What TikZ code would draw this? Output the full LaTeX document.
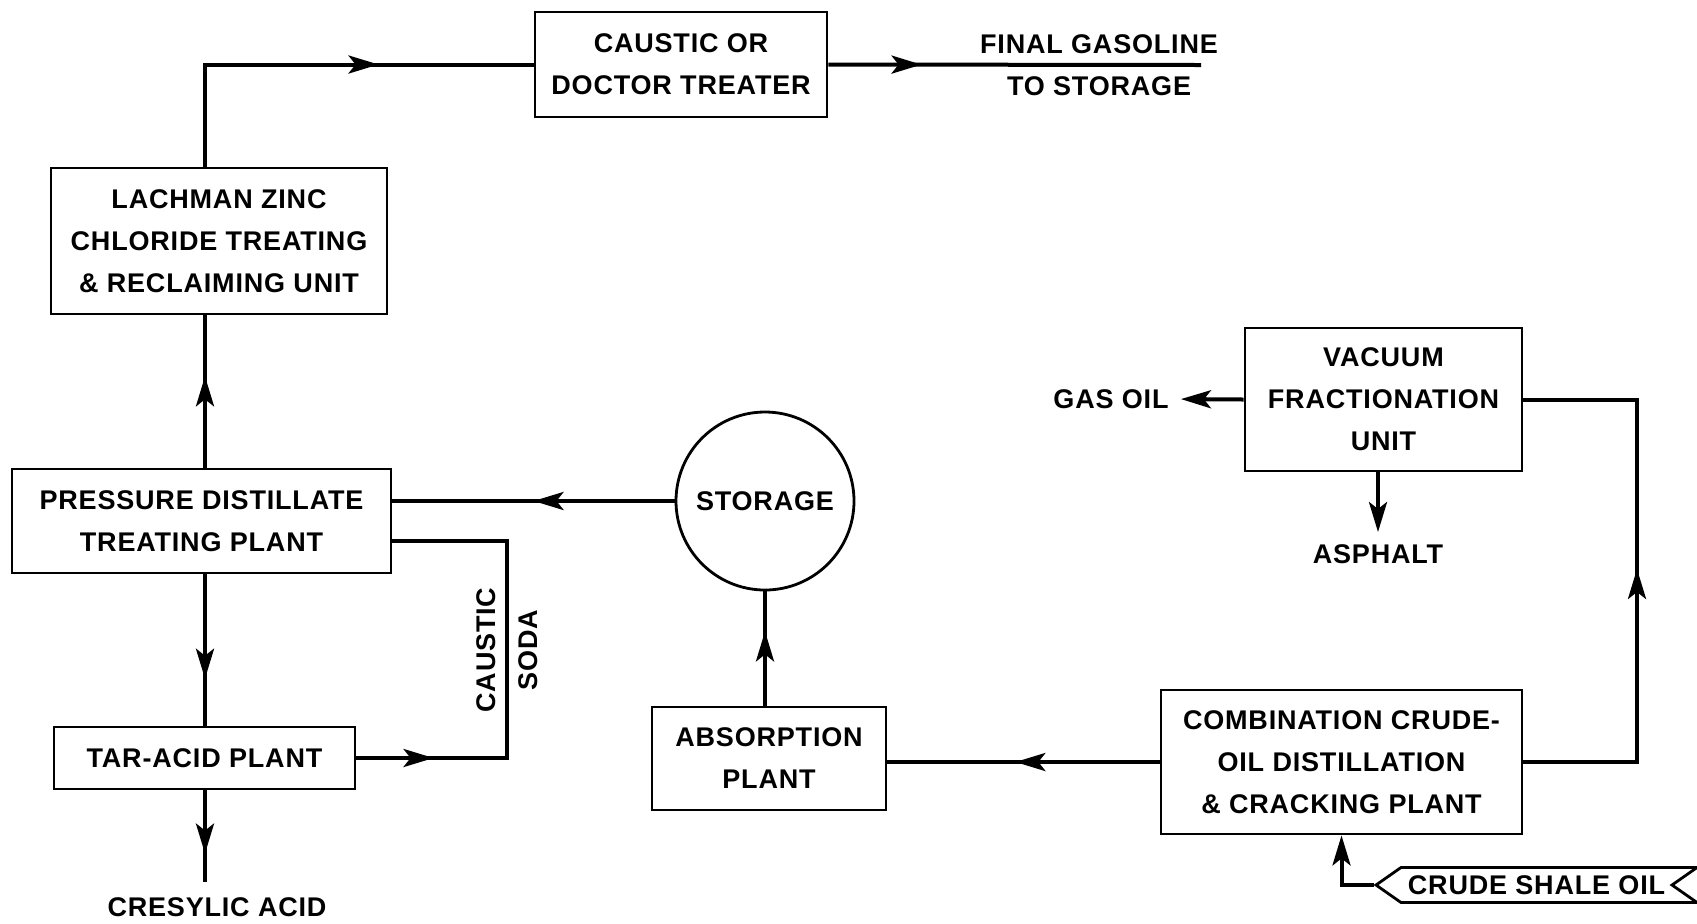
\documentclass[tikz,border=0pt]{standalone}
\usepackage{fontspec}
\setmainfont{Liberation Sans}[LetterSpace=3]
\usetikzlibrary{arrows.meta, positioning, calc, decorations.markings, shapes.symbols}

\newcommand{\lettering}{\fontsize{13.5pt}{21pt}\selectfont\bfseries}

\begin{document}
\begin{tikzpicture}[x=0.5pt, y=-0.5pt,
  pbox/.style={draw, line width=1.4pt, align=center, inner sep=0pt, font=\lettering},
  lbl/.style={align=center, font=\lettering, inner sep=2pt},
  flow/.style={line width=2pt},
  midarrow/.style={postaction={decorate}, decoration={markings, mark=at position #1 with {\arrow{Stealth[length=15pt, width=9pt, inset=3.5pt]}}}},
  endarrow/.style={-{Stealth[length=15pt, width=9pt, inset=3.5pt]}}
]
  \useasboundingbox (0,0) rectangle (1697,923);

  % plant units
  \node[pbox, minimum width=146pt, minimum height=52.5pt] (treater) at (681,64.5) {CAUSTIC OR\\DOCTOR TREATER};
  \node[pbox, minimum width=168pt, minimum height=73pt] (lachman) at (219,241) {LACHMAN ZINC\\CHLORIDE TREATING\\\& RECLAIMING UNIT};
  \node[pbox, minimum width=189.5pt, minimum height=52pt] (pressure) at (201.5,521) {PRESSURE DISTILLATE\\TREATING PLANT};
  \node[pbox, minimum width=150.5pt, minimum height=31pt] (taracid) at (204.5,758) {TAR-ACID PLANT};
  \node[pbox, circle, minimum size=89pt] (storage) at (765,501) {STORAGE};
  \node[pbox, minimum width=117pt, minimum height=51.5pt] (absorption) at (769,758.5) {ABSORPTION\\PLANT};
  \node[pbox, minimum width=180.5pt, minimum height=72pt] (combination) at (1341.5,762) {COMBINATION CRUDE-\\OIL DISTILLATION\\\& CRACKING PLANT};
  \node[pbox, minimum width=138.5pt, minimum height=71.5pt] (vacuum) at (1383.5,399.5) {VACUUM\\FRACTIONATION\\UNIT};

  % products and feed
  \node[lbl] (final) at (1099,65.5) {FINAL GASOLINE\\TO STORAGE};
  \node[lbl] (cresylic) at (217,907) {CRESYLIC ACID};
  \node[lbl] (gasoil) at (1111,399) {GAS OIL};
  \node[lbl] (asphalt) at (1378,554) {ASPHALT};
  \node[lbl, rotate=90] (soda) at (507,650) {CAUSTIC\\SODA};
  \node[draw, line width=1.4pt, signal, signal to=west, signal from=east, signal pointer angle=70,
        font=\lettering, minimum width=160.5pt, minimum height=17.5pt, inner sep=1pt] (crude) at (1536.5,885) {CRUDE SHALE OIL};

  \coordinate (colL) at (205,0);
  \coordinate (finalend) at (1201,65);
  \coordinate (cresend) at (205,882);
  \coordinate (sodacol) at (507,541);
  \coordinate (loopR) at (1637,600);

  % flows
  \draw[flow, midarrow=0.64] (lachman.north -| colL) |- (treater.west);
  \draw[flow, midarrow=0.25] (treater.east) -- (finalend);
  \draw[flow, midarrow=0.6] (pressure.north -| colL) -- (lachman.south -| colL);
  \draw[flow, midarrow=0.69] (pressure.south -| colL) -- (taracid.north -| colL);
  \draw[flow, midarrow=0.69] (taracid.south -| colL) -- (cresend);
  \draw[flow, midarrow=0.16] (taracid.east) -| (sodacol) -- ([yshift=-10pt]pressure.east);
  \draw[flow, midarrow=0.5] (storage.west) -- ([yshift=10pt]pressure.east);
  \draw[flow, midarrow=0.65] (absorption.north -| storage.south) -- (storage.south);
  \draw[flow, midarrow=0.53] (combination.west) -- (absorption.east |- combination.west);
  \draw[flow, midarrow=0.52] (combination.east) -| (loopR) |- (vacuum.east);
  \draw[flow, endarrow, shorten >=4pt] (vacuum.west) -- (gasoil.east);
  \draw[flow, endarrow, shorten >=4pt] (vacuum.south -| asphalt.north) -- (asphalt.north);
  \draw[flow, endarrow] (crude.west) -| (combination.south);
\end{tikzpicture}
\end{document}
